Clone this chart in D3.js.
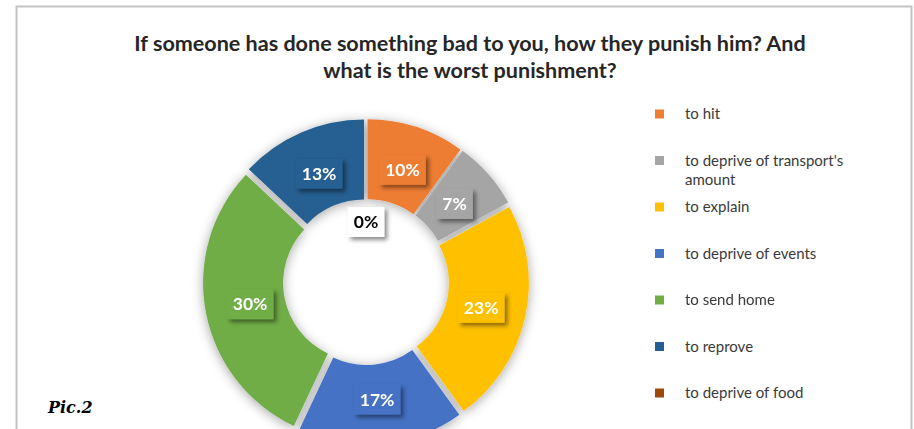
<!DOCTYPE html>
<html>
<head>
<meta charset="utf-8">
<script src="https://cdn.jsdelivr.net/npm/d3@7"></script>
<style>
  body { margin: 0; background: #fff; }
  svg { display: block; }
</style>
</head>
<body>
<div id="chart"></div>
<script>
// data
const categories = ["to hit", "to deprive of transport's amount", "to explain",
  "to deprive of events", "to send home", "to reprove", "to deprive of food"];
const values = [10, 7, 23, 17, 30, 13, 0];
const colors = ["#ED7D31", "#A5A5A5", "#FFC000", "#4472C4", "#70AD47", "#255E91", "#9E480E"];
const titleLines = ["If someone has done something bad to you, how they punish him? And",
  "what is the worst punishment?"];

const width = 914, height = 429;
const cx = 366, cy = 282;
const outerR = 158, innerR = 78, explode = 5;
const font = "Lato, 'Open Sans', sans-serif";

const svg = d3.select("#chart").append("svg")
    .attr("width", width)
    .attr("height", height);

const defs = svg.append("defs");
defs.append("filter").attr("id", "ringShadow")
    .attr("x", "-30%").attr("y", "-30%").attr("width", "160%").attr("height", "160%")
  .append("feDropShadow")
    .attr("dx", 0).attr("dy", 2).attr("stdDeviation", 6)
    .attr("flood-color", "#000").attr("flood-opacity", 0.35);
defs.append("filter").attr("id", "boxShadow")
    .attr("x", "-30%").attr("y", "-30%").attr("width", "160%").attr("height", "160%")
  .append("feDropShadow")
    .attr("dx", 3).attr("dy", 3).attr("stdDeviation", 2)
    .attr("flood-color", "#000").attr("flood-opacity", 0.45);

// frame
svg.append("path")
    .attr("d", "M16.5,429 V6.5 H911.5 V429")
    .attr("fill", "none")
    .attr("stroke", "#c3c3c3")
    .attr("stroke-width", 2);

// title
const title = svg.append("text")
    .attr("text-anchor", "middle")
    .attr("font-family", font)
    .attr("font-weight", "bold")
    .attr("font-size", 18)
    .attr("fill", "#262626");
title.selectAll("tspan")
    .data(titleLines)
    .enter().append("tspan")
    .attr("x", 470)
    .attr("y", (d, i) => 51 + i * 27)
    .text(d => d);
// fit first line to the width seen in the picture
const firstLen = title.select("tspan").node().getComputedTextLength();
title.attr("font-size", 18 * 672 / firstLen);

// donut
const pie = d3.pie().sort(null).value(d => d);
const arcs = pie(values);
const arc = d3.arc().innerRadius(innerR).outerRadius(outerR);
const labelArc = d3.arc().innerRadius(innerR + 2).outerRadius(outerR - 2);
const zeroArc = d3.arc().innerRadius(44).outerRadius(76);

const ring = svg.append("g")
    .attr("transform", "translate(" + cx + "," + cy + ")");

const slices = ring.append("g").attr("filter", "url(#ringShadow)");
slices.selectAll("path")
    .data(arcs.filter(d => d.value > 0))
    .enter().append("path")
    .attr("d", arc)
    .attr("fill", d => colors[d.index])
    .attr("transform", d => {
      const a = (d.startAngle + d.endAngle) / 2;
      return "translate(" + (Math.sin(a) * explode) + "," + (-Math.cos(a) * explode) + ")";
    });

// data labels in coloured boxes
const labels = ring.selectAll("g.label")
    .data(arcs)
    .enter().append("g")
    .attr("class", "label")
    .attr("transform", d => {
      const c = d.value > 0 ? labelArc.centroid(d) : zeroArc.centroid(d);
      return "translate(" + c[0] + "," + c[1] + ")";
    });

labels.append("rect")
    .attr("filter", "url(#boxShadow)");
labels.append("text")
    .attr("text-anchor", "middle")
    .attr("dy", "0.36em")
    .attr("font-family", font)
    .attr("font-weight", "bold")
    .attr("font-size", 17.5)
    .attr("fill", d => d.value > 0 ? "#fff" : "#000")
    .text(d => d.value + "%");
labels.each(function (d) {
  const g = d3.select(this);
  const w = g.select("text").node().getComputedTextLength() + 12;
  g.select("rect")
      .attr("x", -w / 2).attr("y", -15)
      .attr("width", w).attr("height", 30)
      .attr("fill", d.value > 0 ? colors[d.index] : "#fff");
});

// legend
const legendY = d3.scalePoint().domain(categories).range([114, 393]);
const legend = svg.append("g")
    .attr("font-family", font)
    .attr("font-size", 15)
    .attr("fill", "#3a3a3a");
const item = legend.selectAll("g")
    .data(categories)
    .enter().append("g")
    .attr("transform", d => "translate(0," + legendY(d) + ")");
item.append("rect")
    .attr("x", 655).attr("y", -4.5)
    .attr("width", 9).attr("height", 9)
    .attr("fill", (d, i) => colors[i]);
item.append("text")
    .attr("x", 685)
    .each(function (d) {
      // wrap long labels at ~180px like the picture
      const t = d3.select(this);
      const words = d.split(" ");
      let line = [];
      let tspan = t.append("tspan").attr("x", 685).attr("dy", "0.35em");
      words.forEach(w => {
        line.push(w);
        tspan.text(line.join(" "));
        if (tspan.node().getComputedTextLength() > 180 && line.length > 1) {
          line.pop();
          tspan.text(line.join(" "));
          line = [w];
          tspan = t.append("tspan").attr("x", 685).attr("dy", "1.25em").text(w);
        }
      });
    });

// figure caption
svg.append("text")
    .attr("x", 48).attr("y", 413)
    .attr("font-family", "'DejaVu Serif', serif")
    .attr("font-style", "italic")
    .attr("font-weight", "bold")
    .attr("font-size", 16)
    .attr("fill", "#000")
    .text("Pic.2");
</script>
</body>
</html>
